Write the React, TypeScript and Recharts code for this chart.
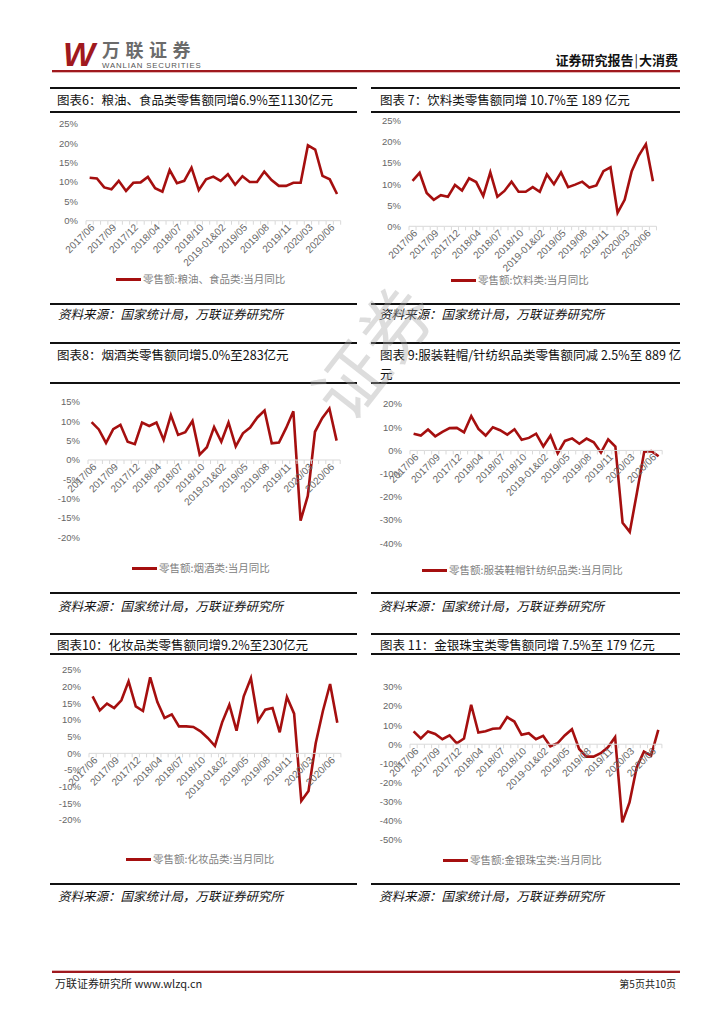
import React from 'react';
import { LineChart, Line, XAxis, YAxis } from 'recharts';

const months = [
  '2017/06', '2017/07', '2017/08', '2017/09', '2017/10', '2017/11', '2017/12',
  '2018/01&02', '2018/03', '2018/04', '2018/05', '2018/06', '2018/07', '2018/08', '2018/09', '2018/10', '2018/11', '2018/12',
  '2019-01&02', '2019/03', '2019/04', '2019/05', '2019/06', '2019/07', '2019/08', '2019/09', '2019/10', '2019/11', '2019/12',
  '2020/01&02', '2020/03', '2020/04', '2020/05', '2020/06', '2020/07',
];

// 当月同比, %
const grainFood = [11.1, 10.9, 8.6, 8.1, 10.3, 7.7, 9.8, 9.9, 11.3, 8.4, 7.5, 13.1, 9.7, 10.3, 13.7, 7.9, 10.7, 11.4, 10.3, 12.0, 9.3, 11.5, 10.0, 10.0, 12.7, 10.5, 9.0, 9.0, 9.8, 9.8, 19.5, 18.4, 11.6, 10.7, 6.9];
const beverage = [10.8, 12.7, 7.9, 6.3, 7.4, 7.0, 9.8, 8.5, 11.4, 10.5, 7.2, 12.8, 7.0, 8.4, 10.6, 8.2, 8.2, 9.3, 8.2, 12.3, 10.0, 12.8, 9.3, 9.9, 10.6, 9.2, 9.7, 13.1, 14.0, 3.2, 6.3, 13.1, 16.8, 19.5, 10.7];
const tobaccoLiquor = [9.8, 7.9, 4.4, 8.0, 9.1, 4.7, 4.1, 9.7, 8.8, 9.7, 5.2, 11.6, 6.5, 7.2, 10.1, 1.4, 3.3, 8.5, 4.7, 9.7, 3.5, 6.9, 8.4, 11.0, 12.8, 4.3, 4.5, 8.3, 12.6, -15.7, -9.3, 7.3, 10.8, 13.3, 5.0];
const apparel = [7.2, 6.4, 9.0, 6.1, 8.0, 9.6, 9.7, 7.8, 14.8, 9.3, 6.4, 10.0, 8.7, 6.8, 9.1, 4.6, 5.4, 7.2, 1.7, 6.4, -1.2, 4.1, 5.2, 2.9, 5.1, 3.5, -0.9, 4.8, 1.7, -31.2, -35.1, -18.1, -0.6, -0.3, -2.5];
const cosmetics = [17.1, 12.9, 14.9, 13.6, 15.9, 21.6, 14.1, 12.7, 22.8, 15.4, 10.6, 11.7, 8.1, 8.1, 7.9, 6.6, 4.6, 2.2, 9.3, 14.6, 6.8, 17.1, 22.6, 9.7, 13.1, 13.6, 6.3, 16.9, 11.9, -14.3, -11.3, 3.0, 12.7, 20.8, 9.2];
const jewelry = [6.7, 3.0, 6.7, 5.4, 2.6, 4.6, 0.5, 3.0, 20.7, 6.1, 6.8, 8.1, 8.4, 14.2, 11.9, 4.9, 5.8, 2.6, 4.4, -1.1, 0.5, 4.6, 7.9, -2.5, -6.5, -6.5, -4.7, -1.6, 3.7, -41.0, -30.5, -12.1, -3.9, -6.0, 7.5];

const ticksA = [0, 5, 10, 15, 20, 25];
const ticksB = [-20, -15, -10, -5, 0, 5, 10, 15];
const ticksC = [-40, -30, -20, -10, 0, 10, 20];
const ticksD = [-20, -15, -10, -5, 0, 5, 10, 15, 20, 25];
const ticksE = [-50, -40, -30, -20, -10, 0, 10, 20, 30];

const source = '资料来源：国家统计局，万联证券研究所';
const RED = '#A50F0F';
const CJK = '"Noto Sans CJK SC", sans-serif';
const LAT = '"Liberation Sans", Arial, sans-serif';

function makeTick(zeroY: number, step: number) {
  return (props: any) => {
    const { x, payload, index } = props;
    const i = payload?.index ?? index;
    const last = i === months.length - 1;
    return (
      <g>
        <line x1={x - step / 2} x2={x + step / 2} y1={zeroY} y2={zeroY} stroke="#d9d9d9" />
        <line x1={x - step / 2} x2={x - step / 2} y1={zeroY} y2={zeroY + 4} stroke="#d9d9d9" />
        {last && <line x1={x + step / 2} x2={x + step / 2} y1={zeroY} y2={zeroY + 4} stroke="#d9d9d9" />}
        {i % 3 === 0 && (
          <text
            transform={`translate(${x + 3},${zeroY + 5}) rotate(-45)`}
            textAnchor="end"
            dy="0.35em"
            fontSize={10}
            fontFamily={LAT}
            fill="#666"
          >
            {payload.value}
          </text>
        )}
      </g>
    );
  };
}

function TrendChart({ values, x0, x1, yTop, yBot, domain, ticks }: any) {
  const step = (x1 - x0) / (months.length - 1);
  const pl = x0 - step / 2;
  const pr = x1 + step / 2;
  const yw = 40;
  const mt = 10;
  const plotH = yBot - yTop;
  const w = pr - pl + yw + 6;
  const h = mt + plotH + 1 + 50;
  const zeroY = mt + (plotH * domain[1]) / (domain[1] - domain[0]);
  const data = months.map((m, i) => ({ month: m, v: values[i] }));
  return (
    <div style={{ position: 'absolute', left: pl - yw, top: yTop - mt }}>
      <LineChart width={w} height={h} data={data} margin={{ top: mt, right: 6, bottom: 50, left: 0 }}>
        <XAxis
          dataKey="month"
          interval={0}
          height={1}
          axisLine={false}
          tickLine={false}
          padding={{ left: step / 2, right: step / 2 }}
          tick={makeTick(zeroY, step)}
        />
        <YAxis
          domain={domain}
          ticks={ticks}
          interval={0}
          width={yw}
          axisLine={false}
          tickLine={false}
          tickSize={0}
          tickMargin={8}
          tickFormatter={(v: number) => `${v}%`}
          tick={{ fontSize: 9.5, fill: '#666', fontFamily: LAT }}
        />
        <Line type="linear" dataKey="v" stroke={RED} strokeWidth={2.6} dot={false} isAnimationActive={false} />
      </LineChart>
    </div>
  );
}

function HLine({ x, y, w, c = '#111', t = 2 }: any) {
  return <div style={{ position: 'absolute', left: x, top: y - t / 2, width: w, height: t, background: c }} />;
}

function Txt({ x, y, size, children, style }: any) {
  return (
    <div
      style={{
        position: 'absolute',
        left: x,
        top: y - size * 0.7,
        fontSize: size,
        lineHeight: `${size * 1.4}px`,
        whiteSpace: 'nowrap',
        fontFamily: CJK,
        ...style,
      }}
    >
      {children}
    </div>
  );
}

function Panel({ p }: any) {
  return (
    <>
      <HLine x={p.x} y={p.top} w={p.w} />
      <HLine x={p.x} y={p.line2} w={p.w} />
      {p.title.map((t: string, k: number) => (
        <Txt key={k} x={p.x + p.tx} y={p.titleY + k * 19} size={12.5} style={{ color: '#111' }}>
          {t}
        </Txt>
      ))}
      <TrendChart {...p.chart} />
      <div style={{ position: 'absolute', left: p.lx, top: p.ly - 1.5, width: 25, height: 3, background: RED }} />
      <Txt x={p.lx + 27} y={p.ly} size={10.5} style={{ color: '#808080' }}>
        {p.legend}
      </Txt>
      <HLine x={p.x} y={p.bottom} w={p.w} />
      <Txt x={p.x + 8} y={p.srcY} size={12.5} style={{ fontStyle: 'italic', color: '#111' }}>
        {source}
      </Txt>
    </>
  );
}

const panels = [
  {
    x: 50, w: 307, tx: 7, top: 87.5, line2: 111.5, titleY: 99.5, bottom: 303.5, srcY: 313.5,
    title: ['图表6：粮油、食品类零售额同增6.9%至1130亿元'],
    legend: '零售额:粮油、食品类:当月同比', lx: 116, ly: 279,
    chart: { values: grainFood, x0: 89.3, x1: 336.7, yTop: 124, yBot: 220.7, domain: [0, 25], ticks: ticksA },
  },
  {
    x: 371, w: 309, tx: 9, top: 87.5, line2: 111.5, titleY: 99.5, bottom: 303.5, srcY: 313.5,
    title: ['图表 7：饮料类零售额同增 10.7%至 189 亿元'],
    legend: '零售额:饮料类:当月同比', lx: 451, ly: 280,
    chart: { values: beverage, x0: 412.3, x1: 652.7, yTop: 120.7, yBot: 226, domain: [0, 25], ticks: ticksA },
  },
  {
    x: 50, w: 307, tx: 7, top: 343.3, line2: 383, titleY: 354.5, bottom: 593.3, srcY: 606,
    title: ['图表8：烟酒类零售额同增5.0%至283亿元'],
    legend: '零售额:烟酒类:当月同比', lx: 132, ly: 568.3,
    chart: { values: tobaccoLiquor, x0: 91.7, x1: 336.7, yTop: 402, yBot: 537.3, domain: [-20, 15], ticks: ticksB },
  },
  {
    x: 371, w: 309, tx: 9, top: 343.3, line2: 383, titleY: 354.5, bottom: 593.3, srcY: 606,
    title: ['图表 9:服装鞋帽/针纺织品类零售额同减 2.5%至 889 亿', '元'],
    legend: '零售额:服装鞋帽针纺织品类:当月同比', lx: 422, ly: 570.7,
    chart: { values: apparel, x0: 413.7, x1: 658.7, yTop: 404, yBot: 543.3, domain: [-40, 20], ticks: ticksC },
  },
  {
    x: 50, w: 307, tx: 7, top: 634, line2: 654, titleY: 644.3, bottom: 884, srcY: 896,
    title: ['图表10：化妆品类零售额同增9.2%至230亿元'],
    legend: '零售额:化妆品类:当月同比', lx: 126, ly: 859.3,
    chart: { values: cosmetics, x0: 92.3, x1: 337, yTop: 670, yBot: 820, domain: [-20, 25], ticks: ticksD },
  },
  {
    x: 371, w: 309, tx: 9, top: 634, line2: 654, titleY: 644.3, bottom: 884, srcY: 896,
    title: ['图表 11：金银珠宝类零售额同增 7.5%至 179 亿元'],
    legend: '零售额:金银珠宝类:当月同比', lx: 443, ly: 860.7,
    chart: { values: jewelry, x0: 414, x1: 658.7, yTop: 686.7, yBot: 839.3, domain: [-50, 30], ticks: ticksE },
  },
];

export default function App() {
  return (
    <div style={{ position: 'absolute', left: 0, top: 0, width: 724, height: 1024, background: '#fff', overflow: 'hidden' }}>
      {/* header */}
      <div
        style={{
          position: 'absolute', left: 63, top: 34, fontSize: 34, lineHeight: '40px', fontWeight: 700,
          fontStyle: 'italic', fontFamily: LAT, color: '#A0191E', letterSpacing: -2,
        }}
      >
        W
      </div>
      <div
        style={{
          position: 'absolute', left: 102, top: 38.5, fontSize: 18, lineHeight: '20px', fontWeight: 700,
          fontFamily: CJK, color: '#6b6b6b', letterSpacing: 5.5,
        }}
      >
        万联证券
      </div>
      <div
        style={{
          position: 'absolute', left: 102, top: 62, fontSize: 7.8, lineHeight: '8px',
          fontFamily: LAT, color: '#555', letterSpacing: 0.85,
        }}
      >
        WANLIAN SECURITIES
      </div>
      <div
        style={{
          position: 'absolute', right: 46, top: 52, fontSize: 13, lineHeight: '16px', fontWeight: 700,
          fontFamily: CJK, color: '#111',
        }}
      >
        证券研究报告<span style={{ margin: '0 1px', fontWeight: 400 }}>|</span>大消费
      </div>
      <HLine x={52} y={70.5} w={628} c="#A0191E" t={2} />
      <HLine x={52} y={72.3} w={628} c="#e3b5b5" t={1} />

      {panels.map((p, i) => (
        <Panel key={i} p={p} />
      ))}

      {/* watermark */}
      <div
        style={{
          position: 'absolute', left: 290, top: 310, width: 160, textAlign: 'center', fontSize: 72,
          lineHeight: '80px', fontFamily: CJK, color: 'rgba(170,170,170,0.4)',
          transform: 'rotate(-52deg)', pointerEvents: 'none',
        }}
      >
        证券
      </div>

      {/* footer */}
      <HLine x={52} y={972} w={628} c="#A0191E" t={2} />
      <HLine x={52} y={970.3} w={628} c="#e3b5b5" t={1} />
      <Txt x={55} y={984} size={11} style={{ color: '#222' }}>
        万联证券研究所 www.wlzq.cn
      </Txt>
      <div
        style={{
          position: 'absolute', right: 48, top: 977, fontSize: 10, lineHeight: '14px',
          fontFamily: CJK, color: '#222',
        }}
      >
        第5页共10页
      </div>
    </div>
  );
}
